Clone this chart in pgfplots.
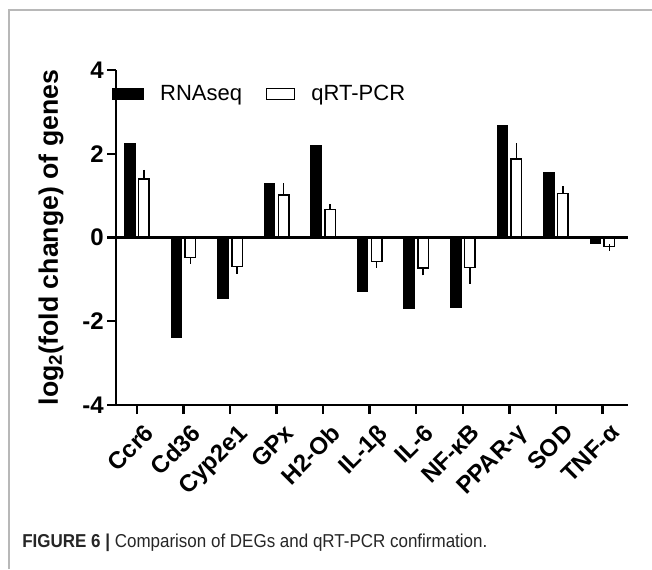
\documentclass[border=0pt]{standalone}
\usepackage{fontspec}
\setmainfont{Liberation Sans}
\newfontfamily\capfont[FakeStretch=0.91]{Liberation Sans}
\usepackage{pgfplots}
\pgfplotsset{compat=1.18}

% values (log2 fold change)
\pgfplotstableread{
x  rna
0  2.25
1  -2.39
2  -1.46
3  1.28
4  2.20
5  -1.29
6  -1.70
7  -1.66
8  2.67
9  1.56
10 -0.15
}\rnaseq

% qRT-PCR, split by sign so the error bar only points away from zero
\pgfplotstableread{
x  y     e
0  1.40  0.14
3  1.01  0.21
4  0.67  0.05
8  1.87  0.31
9  1.05  0.10
}\pcrup
\pgfplotstableread{
x  y      e
1  -0.48  0.07
2  -0.69  0.10
5  -0.57  0.08
6  -0.73  0.10
7  -0.72  0.31
10 -0.22  0.02
}\pcrdown

\begin{document}
\begin{tikzpicture}
% frame and caption, in pixel units of the 652x569 figure (y down)
\begin{scope}[x=0.75pt, y=-0.75pt, shift={(0pt,426.75pt)}]
  \draw[black!28, line width=1pt] (9,569) -- (9,10) -- (652,10);
  \node[anchor=base west, inner sep=0pt, text=black!85,
        font=\capfont\fontsize{14}{16}\selectfont] at (22,547)
    {\textbf{FIGURE 6 |} Comparison of DEGs and qRT-PCR confirmation.};
\end{scope}

\begin{axis}[
  at={(87pt,123pt)}, anchor=south west,
  scale only axis,
  width=384pt, height=251.25pt,
  xmin=-0.45, xmax=10.55,
  ymin=-4, ymax=4,
  ytick={-4,-2,0,2,4},
  xtick={0,...,10},
  xticklabels={Ccr6,Cd36,Cyp2e1,GPx,H2-Ob,IL-1β,IL-6,NF-κB,PPAR-γ,SOD,TNF-α},
  axis x line*=bottom, axis y line*=left,
  axis line style={line width=1.8pt},
  tick align=outside,
  major tick length=6.75pt,
  major tick style={line width=1.8pt, black},
  /pgf/number format/assume math mode=true,
  tick label style={font=\fontsize{18}{20}\selectfont\bfseries},
  yticklabel style={xshift=1pt},
  x tick label style={rotate=45, anchor=north east, inner sep=1pt, xshift=0pt, yshift=-7pt},
  ylabel={log\textsubscript{2}(fold change) of genes},
  ylabel style={font=\fontsize{20}{22}\selectfont\bfseries,
                at={(axis description cs:-0.127,0.5)}, anchor=center, rotate=0},
  ybar, bar width=7.9pt,
  legend columns=2,
  legend cell align=left,
  legend style={draw=none, fill=none, inner sep=0pt,
                font=\fontsize{16.5}{19}\selectfont,
                at={(axis description cs:-0.008,0.928)}, anchor=west,
                /tikz/every odd column/.append style={column sep=10pt},
                /tikz/every even column/.append style={column sep=16pt}},
  clip=false,
]
\addplot[bar shift=-5.25pt, fill=black, draw=black, line width=0.8pt,
  legend image code/.code={\draw[fill=black, draw=black, line width=1pt] (0pt,-4pt) rectangle (23pt,4pt);}]
  table[x=x, y=rna] {\rnaseq};
\addlegendentry{RNAseq}

\addplot[bar shift=5.25pt, fill=white, draw=black, line width=1.1pt,
  legend image code/.code={\draw[fill=white, draw=black, line width=1pt] (0pt,-4pt) rectangle (21pt,4pt);},
  error bars/.cd, y dir=plus, y explicit,
  error bar style={line width=1.1pt, black},
  error mark options={line width=1.1pt, mark size=2.3pt, black}]
  table[x=x, y=y, y error=e] {\pcrup};
\addlegendentry{qRT-PCR}

\addplot[bar shift=5.25pt, fill=white, draw=black, line width=1.1pt, forget plot,
  error bars/.cd, y dir=minus, y explicit,
  error bar style={line width=1.1pt, black},
  error mark options={line width=1.1pt, mark size=2.3pt, black}]
  table[x=x, y=y, y error=e] {\pcrdown};

\addplot[line width=1.8pt, black, forget plot, sharp plot, mark=none]
  coordinates {(-0.45,0) (10.55,0)};
\end{axis}

\pgfresetboundingbox
\useasboundingbox (0,0) rectangle (489pt,426.75pt);
\end{tikzpicture}
\end{document}
